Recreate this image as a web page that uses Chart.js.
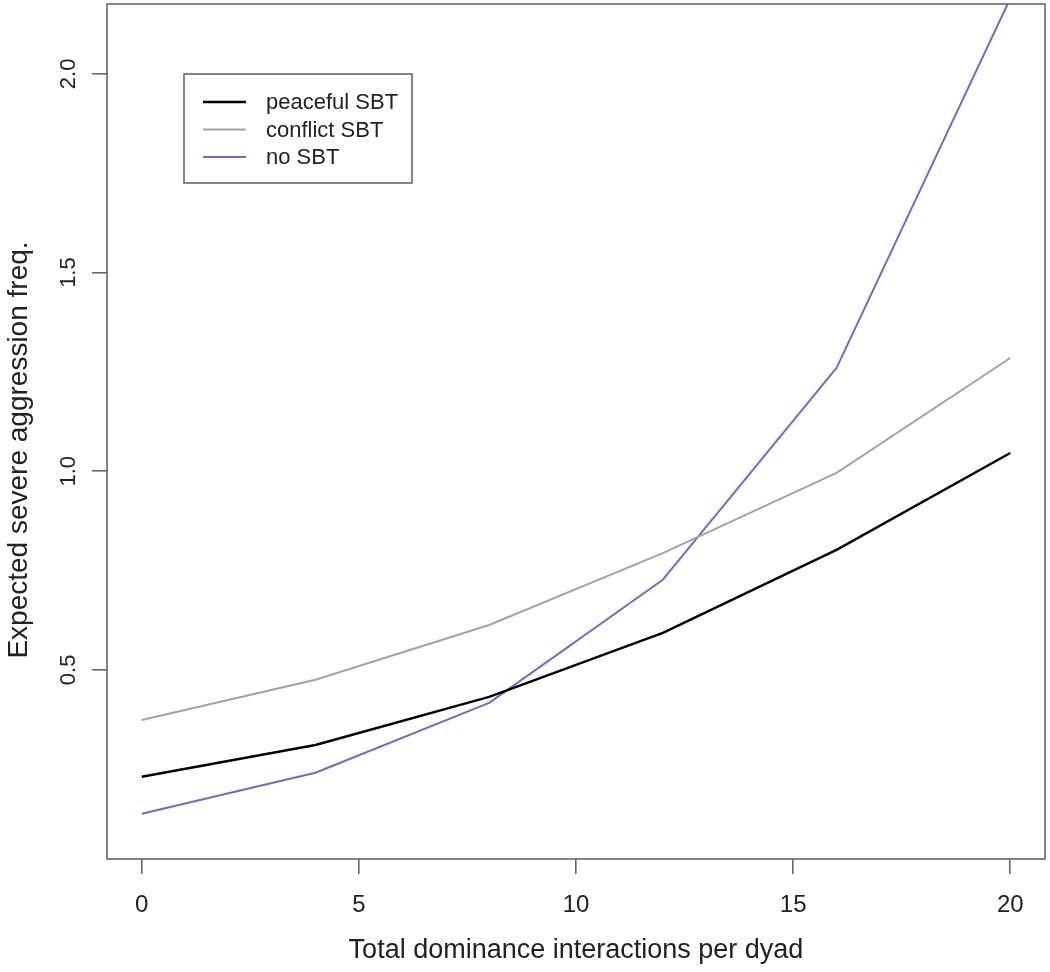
<!DOCTYPE html>
<html>
<head>
<meta charset="utf-8">
<script src="https://cdn.jsdelivr.net/npm/chart.js@4"></script>
<style>
html,body{margin:0;padding:0;background:#fff;}
#wrap{width:1050px;height:972px;position:relative;}
</style>
</head>
<body>
<div id="wrap"><canvas id="c" width="1050" height="972"></canvas></div>
<script>
// ---- data ----
const xValues = [0, 4, 8, 12, 16, 20];
const peacefulSBT = [0.231, 0.311, 0.432, 0.593, 0.802, 1.046];
const conflictSBT = [0.374, 0.475, 0.613, 0.794, 0.996, 1.285];
const noSBT = [0.138, 0.241, 0.417, 0.727, 1.260, 2.19];
const seriesNames = ['peaceful SBT', 'conflict SBT', 'no SBT'];
const xTicks = [0, 5, 10, 15, 20];
const yTicks = [0.5, 1.0, 1.5, 2.0];
const yTickLabels = ['0.5', '1.0', '1.5', '2.0'];
const xTitle = 'Total dominance interactions per dyad';
const yTitle = 'Expected severe aggression freq.';

const FONT = '"Liberation Sans", Arial, Helvetica, sans-serif';
const AXIS_COL = '#676767';
const colors = ['#000000', '#a3a3a3', '#7466d2'];
const widths = [2.4, 2, 2];

const toPts = arr => arr.map((v, i) => ({x: xValues[i], y: v}));

const decor = {
  id: 'decor',
  afterDraw(chart) {
    const ctx = chart.ctx;
    const a = chart.chartArea;
    const xs = chart.scales.x, ys = chart.scales.y;
    ctx.save();
    // box
    ctx.strokeStyle = AXIS_COL;
    ctx.lineWidth = 1.6;
    ctx.strokeRect(a.left, a.top, a.right - a.left, a.bottom - a.top);
    ctx.fillStyle = '#222';
    // x tick labels
    ctx.font = '24px ' + FONT;
    ctx.textAlign = 'center';
    ctx.textBaseline = 'middle';
    xTicks.forEach(v => ctx.fillText(String(v), xs.getPixelForValue(v), 905));
    // y tick labels rotated
    ctx.font = '22px ' + FONT;
    yTicks.forEach((v, i) => {
      ctx.save();
      ctx.translate(69, ys.getPixelForValue(v));
      ctx.rotate(-Math.PI / 2);
      ctx.textAlign = 'center';
      ctx.textBaseline = 'middle';
      ctx.fillText(yTickLabels[i], 0, 0);
      ctx.restore();
    });
    // axis titles
    ctx.font = '27px ' + FONT;
    ctx.textAlign = 'center';
    ctx.textBaseline = 'alphabetic';
    ctx.fillText(xTitle, (a.left + a.right) / 2, 958);
    ctx.save();
    ctx.translate(27, 450);
    ctx.rotate(-Math.PI / 2);
    ctx.font = '28px ' + FONT;
    ctx.fillText(yTitle, 0, 0);
    ctx.restore();
    // legend
    const lx = 184, ly = 74, lw = 228, lh = 109;
    ctx.fillStyle = '#fff';
    ctx.fillRect(lx, ly, lw, lh);
    ctx.strokeStyle = AXIS_COL;
    ctx.lineWidth = 1.6;
    ctx.strokeRect(lx, ly, lw, lh);
    ctx.font = '22px ' + FONT;
    ctx.textAlign = 'left';
    ctx.textBaseline = 'middle';
    chart.data.datasets.forEach((ds, i) => {
      const yy = 102 + i * 27.5;
      ctx.strokeStyle = ds.borderColor;
      ctx.lineWidth = ds.borderWidth;
      ctx.beginPath();
      ctx.moveTo(203, yy);
      ctx.lineTo(246, yy);
      ctx.stroke();
      ctx.fillStyle = '#222';
      ctx.fillText(ds.label, 266, yy + 1);
    });
    ctx.restore();
  }
};

new Chart(document.getElementById('c'), {
  type: 'line',
  data: {
    datasets: [
      {label: seriesNames[0], data: toPts(peacefulSBT), borderColor: colors[0], borderWidth: widths[0]},
      {label: seriesNames[1], data: toPts(conflictSBT), borderColor: colors[1], borderWidth: widths[1]},
      {label: seriesNames[2], data: toPts(noSBT), borderColor: colors[2], borderWidth: widths[2]}
    ]
  },
  options: {
    responsive: false,
    animation: false,
    events: [],
    layout: {padding: {top: 4, right: 5, left: 0, bottom: 0}},
    elements: {
      point: {radius: 0},
      line: {tension: 0, fill: false, borderJoinStyle: 'round'}
    },
    datasets: {line: {clip: 0}},
    plugins: {legend: {display: false}, tooltip: {enabled: false}, title: {display: false}},
    scales: {
      x: {
        type: 'linear',
        min: -0.8, max: 20.8,
        afterBuildTicks: s => { s.ticks = xTicks.map(v => ({value: v})); },
        afterFit: s => { s.height = 113; s.paddingLeft = 0; s.paddingRight = 0; },
        grid: {drawOnChartArea: false, drawTicks: true, tickLength: 15, color: AXIS_COL, lineWidth: 1.6},
        border: {display: false},
        ticks: {color: 'rgba(0,0,0,0)', font: {size: 1, family: FONT}, padding: 0, maxRotation: 0, autoSkip: false}
      },
      y: {
        type: 'linear',
        min: 0.024, max: 2.176,
        afterBuildTicks: s => { s.ticks = yTicks.map(v => ({value: v})); },
        afterFit: s => { s.width = 107; s.paddingTop = 0; s.paddingBottom = 0; },
        grid: {drawOnChartArea: false, drawTicks: true, tickLength: 15, color: AXIS_COL, lineWidth: 1.6},
        border: {display: false},
        ticks: {color: 'rgba(0,0,0,0)', font: {size: 1, family: FONT}, padding: 0, autoSkip: false}
      }
    }
  },
  plugins: [decor]
});
</script>
</body>
</html>
